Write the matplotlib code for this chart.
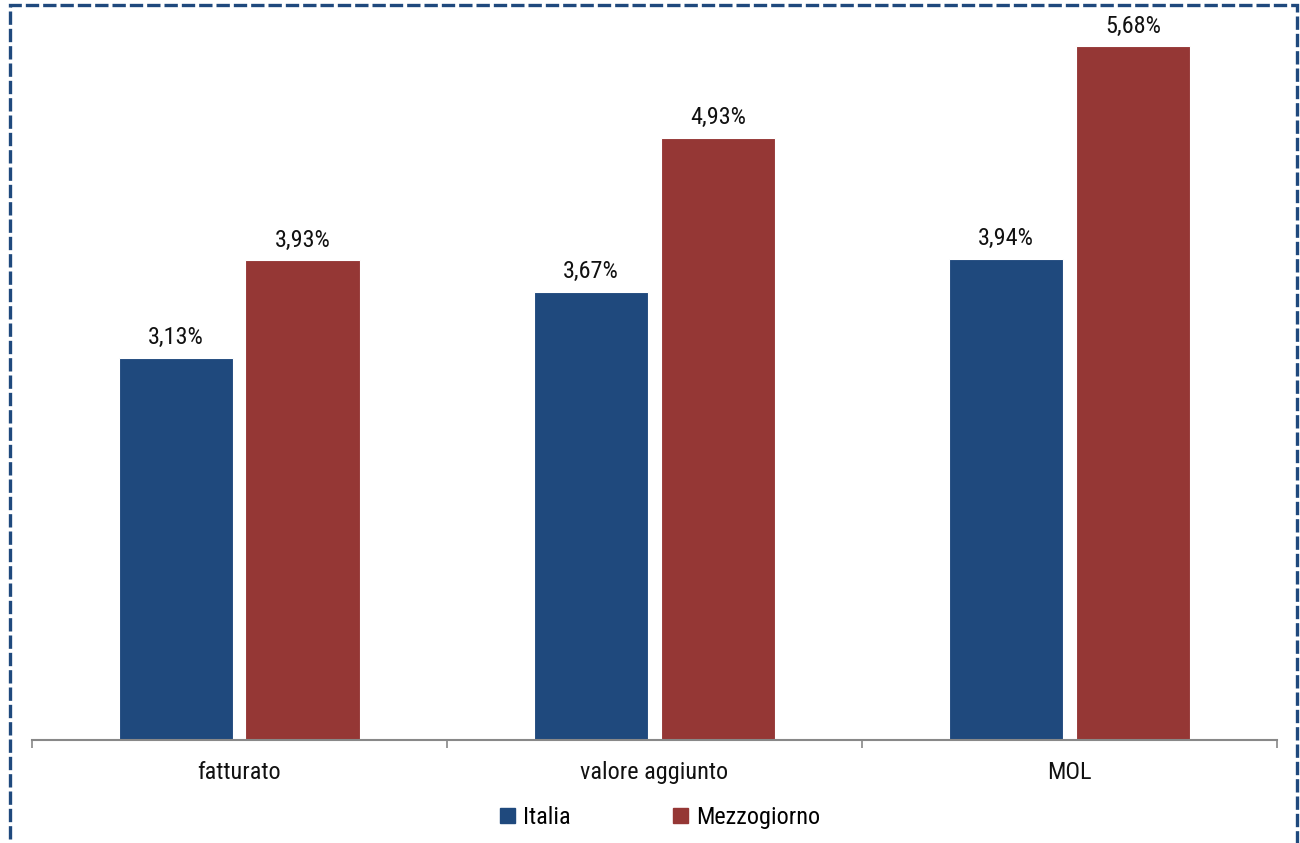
import matplotlib.pyplot as plt
from matplotlib import font_manager
from matplotlib.patches import Rectangle, Patch
import numpy as np

categories = ["fatturato", "valore aggiunto", "MOL"]
italia = [3.13, 3.67, 3.94]
mezzogiorno = [3.93, 4.93, 5.68]
series_names = ["Italia", "Mezzogiorno"]

blue = "#1F497D"
red = "#953735"

names = {f.name for f in font_manager.fontManager.ttflist}
fam = "Roboto"
for cand in ["Liberation Sans Narrow", "Roboto Condensed", "Open Sans Condensed"]:
    if cand in names:
        fam = cand
        break
plt.rcParams["font.family"] = [fam, "DejaVu Sans"]
fs = 17.5

fig = plt.figure(figsize=(13, 8.43), dpi=100)
ax = fig.add_axes([0.0246, 0.1222, 0.9577, 0.8695])

x = np.arange(len(categories))
w = 0.277
off = 0.153
b1 = ax.bar(x - off, italia, w, color=blue, edgecolor="white", linewidth=0.8)
b2 = ax.bar(x + off, mezzogiorno, w, color=red, edgecolor="white", linewidth=0.8)

for bars, vals in ((b1, italia), (b2, mezzogiorno)):
    for r, v in zip(bars, vals):
        ax.annotate(f"{v:.2f}%".replace(".", ","),
                    (r.get_x() + r.get_width() / 2, v),
                    xytext=(0, 6), textcoords="offset points",
                    ha="center", va="bottom", fontsize=fs, color="#111111")

ax.set_xlim(-0.5, len(categories) - 0.5)
ax.set_ylim(0, 6)
ax.set_yticks([])
for s in ("left", "right", "top"):
    ax.spines[s].set_visible(False)
ax.spines["bottom"].set_color("#888888")
ax.spines["bottom"].set_linewidth(1.5)

ax.set_xticks(np.arange(-0.5, len(categories), 1.0))
ax.set_xticklabels([])
ax.tick_params(axis="x", which="major", length=6, width=1.2, color="#888888")
ax.set_xticks(x, minor=True)
ax.set_xticklabels(categories, minor=True, fontsize=fs, color="#111111")
ax.tick_params(axis="x", which="minor", length=0, pad=15)

handles = [Patch(color=blue), Patch(color=red)]
fig.legend(handles, series_names, loc="center", bbox_to_anchor=(0.508, 0.030),
           ncol=2, frameon=False, fontsize=fs, handlelength=0.6, handleheight=0.6,
           handletextpad=0.35, columnspacing=4.2)

# dashed border around the figure
fig.patches.append(Rectangle((0.008, -0.05), 0.990, 1.044, transform=fig.transFigure,
                             fill=False, edgecolor=blue, linewidth=2.4,
                             linestyle=(0, (4, 1.2))))

fig.savefig("out.png", dpi=100)
